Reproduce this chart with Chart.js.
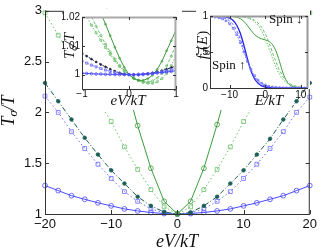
<!DOCTYPE html>
<html>
<head>
<meta charset="utf-8">
<script src="https://cdn.jsdelivr.net/npm/chart.js@4.4.0/dist/chart.umd.min.js"></script>
<style>
  html, body { margin: 0; padding: 0; background: #fff; }
  #wrap { position: relative; width: 320px; height: 252px; overflow: hidden; }
  #wrap canvas { position: absolute; }
  #main { left: 0; top: 0; }
  #inset1 { left: 62px; top: 9px; }
  #inset2 { left: 196px; top: 8px; }
</style>
</head>
<body>
<div id="wrap">
  <canvas id="main" width="320" height="252"></canvas>
  <canvas id="inset1" width="120" height="101"></canvas>
  <canvas id="inset2" width="114" height="102"></canvas>
</div>
<script>
// Main panel: T_sigma/T against eV/kT
const eV = [-20, -18, -16, -14, -12, -10, -8, -6, -4, -2, 0, 2, 4, 6, 8, 10, 12, 14, 16, 18, 20];
const greenCircles = [null, null, null, null, 3.35, 2.85, 2.35, 1.87, 1.45, 1.125, 1, 1.125, 1.45, 1.88, 2.35, 2.85, 3.35, null, null, null, null];
const greenSquares = [2.98, 2.76, 2.54, 2.33, 2.12, 1.91, 1.66, 1.44, 1.24, 1.07, 1, 1.07, 1.24, 1.44, 1.66, 1.91, 2.12, 2.33, 2.54, 2.76, 2.98];
const darkDots = [2.29, 2.11, 1.93, 1.75, 1.585, 1.43, 1.3, 1.17, 1.08, 1.02, 1, 1.015, 1.08, 1.17, 1.3, 1.43, 1.585, 1.74, 1.93, 2.11, 2.29];
const blueSquares = [2.16, 2.0, 1.81, 1.645, 1.49, 1.35, 1.22, 1.125, 1.05, 1.012, 1, 1.008, 1.05, 1.125, 1.22, 1.35, 1.49, 1.645, 1.81, 2.0, 2.15];
const blueCircles = [1.28, 1.23, 1.18, 1.145, 1.11, 1.08, 1.05, 1.03, 1.015, 1.004, 1, 1.004, 1.015, 1.03, 1.05, 1.08, 1.11, 1.145, 1.18, 1.23, 1.28];
const mainXTicks = [-20, -10, 0, 10, 20];
const mainYTicks = [1, 1.5, 2, 2.5, 3];

// Left inset: zoom around eV/kT = 0
const smallV = [-1, -0.9, -0.8, -0.7, -0.6, -0.5, -0.4, -0.3, -0.2, -0.1, 0, 0.1, 0.2, 0.3, 0.4, 0.5, 0.6, 0.7, 0.8, 0.9, 1];
const zGreenSolid = [1.046, 1.039, 1.032, 1.026, 1.0215, 1.0175, 1.0135, 1.0095, 1.0057, 1.0025, 1, 0.9986, 0.998, 0.998, 0.9986, 0.9998, 1.0018, 1.0046, 1.0083, 1.0118, 1.0155];
const zGreenDashed = [1.028, 1.024, 1.0202, 1.0168, 1.0136, 1.0106, 1.0079, 1.0054, 1.0032, 1.0014, 1, 0.9988, 0.998, 0.9975, 0.9974, 0.9978, 0.9988, 1.0005, 1.003, 1.0064, 1.0105];
const zGreenDotted = [1.0235, 1.0202, 1.0172, 1.0145, 1.0119, 1.0094, 1.007, 1.0048, 1.0028, 1.0012, 1, 0.9989, 0.998, 0.9973, 0.997, 0.997, 0.9975, 0.9986, 1.0004, 1.0031, 1.0066];
const zDark = [1.0075, 1.0064, 1.0054, 1.0044, 1.0035, 1.0027, 1.0019, 1.0012, 1.0006, 1.0002, 1, 0.9999, 0.9999, 1.0001, 1.0003, 1.0006, 1.001, 1.0014, 1.0019, 1.0024, 1.003];
const zBlueSquares = [1.0047, 1.004, 1.0033, 1.0027, 1.0021, 1.0016, 1.0011, 1.0007, 1.0004, 1.0001, 1, 0.9999, 0.9999, 1, 1.0002, 1.0004, 1.0007, 1.001, 1.0013, 1.0017, 1.0022];
const zBlueCircles = [1.0005, 1.0004, 1.0003, 1.0002, 1.0002, 1.0001, 1.0001, 1, 1, 1, 1, 1, 1.0001, 1.0002, 1.0003, 1.0004, 1.0006, 1.0007, 1.0009, 1.0011, 1.0014];
const zoomXTicks = [-1, 0, 1];
const zoomYTicks = [1, 1.01, 1.02];

// Right inset: distribution f_sigma(E)
const energy = [-16, -15, -14, -13, -12, -11, -10, -9, -8, -7, -6, -5, -4, -3, -2, -1, 0, 1, 2, 3, 4, 5, 6, 7, 8, 9, 10, 11, 12];
const fUpSolid = [0.9997, 0.9993, 0.9986, 0.9969, 0.9933, 0.9857, 0.9696, 0.9365, 0.872, 0.76, 0.595, 0.405, 0.24, 0.128, 0.064, 0.03, 0.014, 0.007, 0.003, 0.0014, 0.0007, 0.0003, 0.0001, 0, 0, 0, 0, 0, 0];
const fUpDashed = [0.9983, 0.9968, 0.9941, 0.989, 0.9797, 0.9627, 0.9324, 0.8808, 0.798, 0.679, 0.531, 0.378, 0.245, 0.148, 0.085, 0.047, 0.026, 0.014, 0.0076, 0.0041, 0.0022, 0.0012, 0.0006, 0.0003, 0.0002, 0.0001, 0, 0, 0];
const fUpDotted = [0.9948, 0.9913, 0.9854, 0.975, 0.9593, 0.9328, 0.8914, 0.829, 0.741, 0.629, 0.5, 0.371, 0.259, 0.171, 0.109, 0.067, 0.041, 0.025, 0.0146, 0.0087, 0.0052, 0.003, 0.0018, 0.001, 0.0006, 0.0004, 0.0002, 0.0001, 0.0001];
const fDownSolid = [1, 1, 0.9999, 0.9997, 0.9993, 0.9985, 0.9967, 0.9924, 0.9832, 0.9634, 0.9264, 0.8687, 0.8007, 0.7433, 0.7053, 0.6831, 0.6676, 0.6472, 0.6045, 0.5158, 0.3685, 0.2077, 0.0951, 0.0382, 0.0147, 0.0055, 0.002, 0.0007, 0.0003];
const fDownDashed = [1, 0.9999, 0.9999, 0.9998, 0.9996, 0.9993, 0.9987, 0.9978, 0.9962, 0.9933, 0.9884, 0.98, 0.9655, 0.9415, 0.902, 0.841, 0.752, 0.636, 0.5, 0.364, 0.248, 0.159, 0.098, 0.0585, 0.0345, 0.02, 0.0116, 0.0067, 0.0038];
const fDownDotted = [1, 0.9999, 0.9998, 0.9997, 0.9994, 0.999, 0.9982, 0.9969, 0.9946, 0.9907, 0.9839, 0.9723, 0.9526, 0.92, 0.869, 0.791, 0.685, 0.555, 0.4175, 0.291, 0.191, 0.119, 0.0719, 0.0427, 0.025, 0.0145, 0.0083, 0.0048, 0.0028];
const distXTicks = [-10, 0, 10];
const distYTicks = [0, 0.5, 1];

const sans = '"Liberation Sans", Arial, Helvetica, sans-serif';
const serif = '"Liberation Serif", "Times New Roman", serif';

const GREEN = '#3c9c3c';
const LIGHTGREEN = '#6cbf6c';
const DARK = '#1b5e56';
const BLUE = '#4a4aff';
const LIGHTBLUE = '#6b6bff';

const xy = (xs, ys) => xs.map((x, i) => ({ x, y: ys[i] }));
const minus = v => (v < 0 ? '\u2212' + Math.abs(v) : String(Math.round(v * 100) / 100));
const fixTicks = list => scale => { scale.ticks = list.map(value => ({ value })); };

function series(xs, ys, color, style) {
    return Object.assign({
        data: xy(xs, ys),
        borderColor: color,
        borderWidth: 1,
        pointBorderColor: color,
        pointBackgroundColor: 'rgba(0,0,0,0)',
        pointBorderWidth: 0.8,
        pointRadius: 0,
        pointHoverRadius: 0,
        tension: 0,
        fill: false
    }, style);
}

// text with a subscript, italic like the TeX labels
function drawMath(ctx, it) {
    const font = (s, upright) => (upright ? '' : 'italic ') + s + 'px ' + serif;
    ctx.save();
    ctx.translate(it.x, it.y);
    if (it.rot) ctx.rotate(-Math.PI / 2);
    ctx.fillStyle = '#111';
    ctx.textBaseline = 'middle';
    let w = 0;
    it.parts.forEach(p => {
        ctx.font = font(p.sub ? it.size * 0.7 : it.size, p.up);
        w += ctx.measureText(p.t).width;
    });
    let cx = it.left ? 0 : -w / 2;
    it.parts.forEach(p => {
        ctx.font = font(p.sub ? it.size * 0.7 : it.size, p.up);
        ctx.fillText(p.t, cx, p.sub ? it.size * 0.25 : 0);
        cx += ctx.measureText(p.t).width;
    });
    ctx.restore();
}

const cover = {
    id: 'cover',
    beforeDraw(chart, args, o) {
        const ctx = chart.ctx;
        ctx.save();
        ctx.fillStyle = '#fff';
        (o.rects || []).forEach(r => ctx.fillRect(r[0], r[1], r[2], r[3]));
        ctx.restore();
    }
};

const frame = {
    id: 'frame',
    afterDatasetsDraw(chart, args, o) {
        const { ctx, chartArea: a, scales } = chart;
        const L = o.len;
        ctx.save();
        ctx.lineWidth = 1;
        ctx.strokeStyle = o.color;
        ctx.beginPath();
        ctx.moveTo(a.left + 0.5, a.top);
        ctx.lineTo(a.left + 0.5, a.bottom + 0.5);
        ctx.lineTo(a.right, a.bottom + 0.5);
        ctx.stroke();
        ctx.strokeStyle = o.topColor;
        ctx.lineWidth = o.topWidth;
        ctx.beginPath();
        ctx.moveTo(a.left, a.top + 0.5);
        ctx.lineTo(a.right - 0.5, a.top + 0.5);
        ctx.lineTo(a.right - 0.5, a.bottom);
        ctx.stroke();
        ctx.strokeStyle = o.color;
        ctx.lineWidth = 1;
        ctx.beginPath();
        scales.x.ticks.forEach(t => {
            const p = Math.round(scales.x.getPixelForValue(t.value)) + 0.5;
            ctx.moveTo(p, a.bottom); ctx.lineTo(p, a.bottom - L);
            ctx.moveTo(p, a.top); ctx.lineTo(p, a.top + L);
        });
        scales.y.ticks.forEach(t => {
            const p = Math.round(scales.y.getPixelForValue(t.value)) + 0.5;
            ctx.moveTo(a.left, p); ctx.lineTo(a.left + L, p);
            ctx.moveTo(a.right, p); ctx.lineTo(a.right - L, p);
        });
        ctx.stroke();
        ctx.restore();
    }
};

const mathText = {
    id: 'mathText',
    afterDraw(chart, args, o) {
        (o.items || []).forEach(it => drawMath(chart.ctx, it));
    }
};

function axes(xMin, xMax, xTicks, yMin, yMax, yTicks, yWidth, xHeight, fontSize, xPad, yPad) {
    const tick = { font: { size: fontSize, family: sans }, color: '#111', maxRotation: 0, autoSkip: false, callback: minus };
    return {
        x: {
            type: 'linear', min: xMin, max: xMax,
            afterBuildTicks: fixTicks(xTicks),
            afterFit: s => { s.height = xHeight; },
            grid: { display: false, drawTicks: false },
            border: { display: false },
            ticks: Object.assign({ padding: xPad }, tick)
        },
        y: {
            type: 'linear', min: yMin, max: yMax,
            afterBuildTicks: fixTicks(yTicks),
            afterFit: s => { s.width = yWidth; },
            grid: { display: false, drawTicks: false },
            border: { display: false },
            ticks: Object.assign({ padding: yPad }, tick)
        }
    };
}

const quiet = { legend: { display: false }, tooltip: { enabled: false } };
const TsT = [{ t: 'T' }, { t: '\u03c3', sub: true }, { t: '/T' }];
const eVkT = [{ t: 'eV' }, { t: '/' }, { t: 'kT' }];

// main chart
const mainClip = { left: 4, top: 2, right: 4, bottom: 4 };
new Chart(document.getElementById('main'), {
    type: 'line',
    data: {
        datasets: [
            series(eV, greenCircles, GREEN, { pointRadius: 2.4, clip: mainClip }),
            series(eV, greenSquares, LIGHTGREEN, { borderDash: [1.5, 2.5], pointStyle: 'rect', pointRadius: 2.7, clip: mainClip }),
            series(eV, darkDots, DARK, { borderDash: [5, 2, 1, 2], pointRadius: 1.8, pointBackgroundColor: DARK, clip: mainClip }),
            series(eV, blueSquares, LIGHTBLUE, { borderDash: [1.5, 2.5], pointStyle: 'rect', pointRadius: 2.7, clip: mainClip }),
            series(eV, blueCircles, BLUE, { pointRadius: 2.4, clip: mainClip })
        ]
    },
    options: {
        responsive: false,
        animation: false,
        layout: { padding: { top: 6, right: 8, left: 0, bottom: 0 } },
        plugins: Object.assign({
            frame: { color: '#333', topColor: '#333', topWidth: 1, len: 4 },
            mathText: { items: [
                { parts: eVkT, x: 177, y: 242, size: 18 },
                { parts: TsT, x: 9, y: 111, size: 18, rot: true }
            ] }
        }, quiet),
        scales: axes(-20, 20, mainXTicks, 1, 3, mainYTicks, 45, 38, 13, 3, 3)
    },
    plugins: [frame, mathText]
});

// left inset
new Chart(document.getElementById('inset1'), {
    type: 'line',
    data: {
        datasets: [
            series(smallV, zBlueCircles, BLUE, { pointRadius: 1.3 }),
            series(smallV, zBlueSquares, LIGHTBLUE, { borderDash: [1.5, 1.5], pointStyle: 'rect', pointRadius: 1.5 }),
            series(smallV, zDark, '#1a1a3a', { borderDash: [2, 2], pointRadius: 0.9, pointBackgroundColor: '#1a1a3a' }),
            series(smallV, zGreenSolid, GREEN, { pointRadius: 0.9 }),
            series(smallV, zGreenDashed, LIGHTGREEN, { borderDash: [3, 2], pointRadius: 1.1 }),
            series(smallV, zGreenDotted, LIGHTGREEN, { borderDash: [1.5, 1.5], pointStyle: 'rect', pointRadius: 1.3 })
        ]
    },
    options: {
        responsive: false,
        animation: false,
        layout: { padding: { top: 4, right: 6, left: 0, bottom: 0 } },
        plugins: Object.assign({
            cover: { rects: [[2, 0, 118, 82], [14, 80, 106, 21]] },
            frame: { color: '#333', topColor: '#aaa', topWidth: 2, len: 3 },
            mathText: { items: [
                { parts: eVkT, x: 66, y: 92, size: 15 },
                { parts: TsT, x: 8, y: 37, size: 15, rot: true }
            ] }
        }, quiet),
        scales: axes(-1, 1, zoomXTicks, 0.995, 1.02, zoomYTicks, 20, 21, 10, -1, 2)
    },
    plugins: [cover, frame, mathText]
});

// right inset
new Chart(document.getElementById('inset2'), {
    type: 'line',
    data: {
        datasets: [
            series(energy, fUpDotted, LIGHTBLUE, { borderDash: [1.5, 1.5], pointStyle: 'rect', pointRadius: 1.2, cubicInterpolationMode: 'monotone' }),
            series(energy, fUpDashed, LIGHTBLUE, { borderDash: [3, 2], cubicInterpolationMode: 'monotone' }),
            series(energy, fUpSolid, '#2020f0', { borderWidth: 1.3, cubicInterpolationMode: 'monotone' }),
            series(energy, fDownDotted, LIGHTGREEN, { borderDash: [1.5, 1.5], cubicInterpolationMode: 'monotone' }),
            series(energy, fDownDashed, LIGHTGREEN, { borderDash: [3, 2], cubicInterpolationMode: 'monotone' }),
            series(energy, fDownSolid, GREEN, { cubicInterpolationMode: 'monotone' })
        ]
    },
    options: {
        responsive: false,
        animation: false,
        layout: { padding: { top: 3, right: 1, left: 0, bottom: 0 } },
        plugins: Object.assign({
            cover: { rects: [[0, 0, 114, 81], [4, 80, 92, 22]] },
            frame: { color: '#333', topColor: '#999', topWidth: 2, len: 3 },
            mathText: { items: [
                { parts: [{ t: 'E' }, { t: '/' }, { t: 'kT' }], x: 73, y: 93, size: 15 },
                { parts: [{ t: 'f' }, { t: '\u03c3', sub: true }, { t: '(', up: true }, { t: 'E' }, { t: ')', up: true }], x: 7, y: 37, size: 15, rot: true },
                { parts: [{ t: 'Spin \u2193', up: true }], x: 73, y: 12, size: 13, left: true },
                { parts: [{ t: 'Spin \u2191', up: true }], x: 16, y: 58, size: 13, left: true }
            ] }
        }, quiet),
        scales: axes(-15.5, 12, distXTicks, 0, 1, distYTicks, 14, 22, 10, 1, 2)
    },
    plugins: [cover, frame, mathText]
});
</script>
</body>
</html>
